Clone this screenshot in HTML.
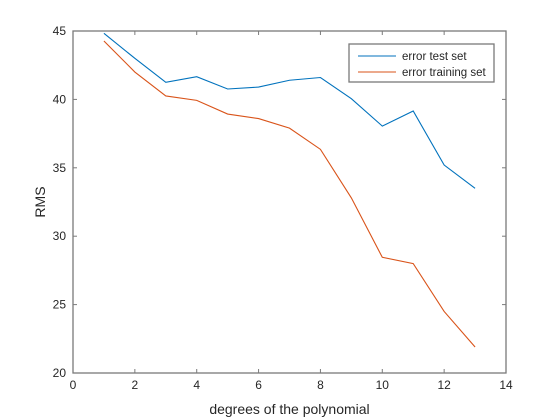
<!DOCTYPE html>
<html><head><meta charset="utf-8"><style>
html,body{margin:0;padding:0;background:#fff;}
svg{display:block;font-family:"Liberation Sans",Arial,sans-serif;}
</style></head><body>
<svg id="chart" width="560" height="420">
<rect x="0" y="0" width="560" height="420" fill="#fff"/>
<g id="plot"></g>
</svg>
<script>
const degrees = [1,2,3,4,5,6,7,8,9,10,11,12,13];
const testErr = [44.83,43.0,41.25,41.66,40.76,40.9,41.4,41.6,40.05,38.05,39.15,35.2,33.5];
const trainErr = [44.27,42.0,40.25,39.93,38.93,38.6,37.9,36.35,32.8,28.46,28.0,24.5,21.9];
const xTicks = [0,2,4,6,8,10,12,14];
const yTicks = [20,25,30,35,40,45];

const L=73,R=506,T=31,B=373;
const xS=v=>L+(v-0)/(14-0)*(R-L);
const yS=v=>B-(v-20)/(45-20)*(B-T);
const NS="http://www.w3.org/2000/svg";
const g=document.getElementById('plot');
function mk(tag,attrs,parent){const e=document.createElementNS(NS,tag);for(const k in attrs)e.setAttribute(k,attrs[k]);(parent||g).appendChild(e);return e;}

const ax=mk('rect',{x:L,y:T,width:R-L,height:B-T,fill:'none',stroke:'#7a7a7a','stroke-width':1.3});



xTicks.forEach(v=>{
  const x=xS(v);
  const t1=mk('line',{x1:x,x2:x,y1:B,y2:B-4,stroke:'#7a7a7a'});
  
  
  const t2=mk('line',{x1:x,x2:x,y1:T,y2:T+4,stroke:'#7a7a7a'});
  
  
  const tx=mk('text',{x:x,y:B+16,'text-anchor':'middle','font-size':12,fill:'#262626'});
  tx.textContent=v;
  
  
});
yTicks.forEach(v=>{
  const y=yS(v);
  const t1=mk('line',{x1:L,x2:L+4,y1:y,y2:y,stroke:'#7a7a7a'});
  
  
  const t2=mk('line',{x1:R,x2:R-4,y1:y,y2:y,stroke:'#7a7a7a'});
  
  
  const tx=mk('text',{x:L-7,y:y+4,'text-anchor':'end','font-size':12,fill:'#262626'});
  tx.textContent=v;
  
  
});

function series(vals,color,name){
  const pts=degrees.map((d,i)=>xS(d)+','+yS(vals[i])).join(' ');
  const p=mk('polyline',{points:pts,fill:'none',stroke:color,'stroke-width':1.1});
  
  
}
series(testErr,'#0072BD','test-error-line');
series(trainErr,'#D95319','training-error-line');

const xl=mk('text',{x:(L+R)/2,y:414,'text-anchor':'middle','font-size':14,fill:'#262626'});
xl.textContent='degrees of the polynomial';


const yl=mk('text',{x:0,y:0,'text-anchor':'middle','font-size':14,fill:'#262626',transform:'translate(45,202) rotate(-90)'});
yl.textContent='RMS';



const lg=mk('g',{});


mk('rect',{x:349,y:44,width:145,height:38,fill:'#fff',stroke:'#7a7a7a','stroke-width':1.3},lg);
const entries=[['error test set','#0072BD',56],['error training set','#D95319',72]];
entries.forEach(e=>{
  const ln=mk('line',{x1:358,x2:396,y1:e[2],y2:e[2],stroke:e[1],'stroke-width':1.1},lg);
  
  
  const t=mk('text',{x:402,y:e[2]+4,'font-size':11.5,fill:'#262626'},lg);
  t.textContent=e[0];
  
  
});
</script>
</body></html>
